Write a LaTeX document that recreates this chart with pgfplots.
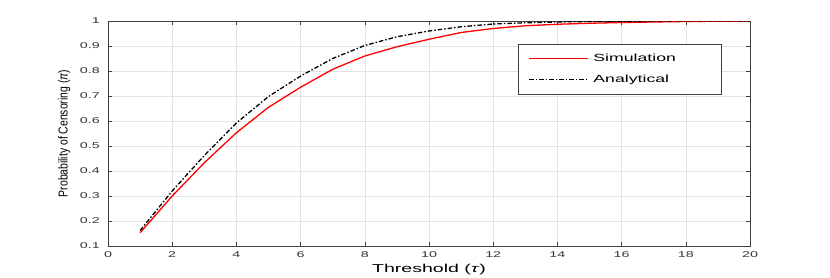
\documentclass[border=0pt]{standalone}
\usepackage{fontspec}
\setmainfont{Liberation Sans}
\newfontfamily\widefont[FakeStretch=1.7]{Liberation Sans}
\newfontfamily\narrowfont[FakeStretch=0.8]{Liberation Sans}
\usepackage{pgfplots}
\pgfplotsset{compat=1.18}
\begin{document}
\begin{tikzpicture}
\begin{axis}[
  at={(0,0)}, anchor=south west,
  scale only axis, width=642pt, height=225pt,
  xmin=0, xmax=20, ymin=0.1, ymax=1,
  xtick={0,2,...,20}, ytick={0.1,0.2,...,1.0},
  tick align=inside, tick pos=both,
  major tick length=4pt,
  grid=major, grid style={gray!22, line width=0.5pt},
  axis line style={black!75, line width=0.6pt},
  tick style={black!75, line width=0.6pt},
  /pgf/number format/assume math mode=true,
  yticklabel style={font=\widefont\fontsize{8.4}{10}\selectfont, inner sep=0pt, xshift=-8pt, text=black!80,
    /pgf/number format/fixed, /pgf/number format/precision=1},
  xticklabel style={font=\widefont\fontsize{8.4}{10}\selectfont, inner sep=0pt, yshift=-5.5pt, text=black!80},
  xlabel={Threshold (\textit{τ})},
  xlabel style={font=\widefont\fontsize{11.5}{13}\selectfont, at={(axis description cs:0.5,-0.117)}, anchor=base},
  ylabel={Probability of Censoring (\textit{π})},
  ylabel style={font=\narrowfont\fontsize{13}{15}\selectfont, at={(axis description cs:-0.068,0.5)}, anchor=center, rotate=0},
  legend style={at={(axis description cs:0.956,0.898)}, anchor=north east,
    font=\widefont\fontsize{10.4}{12}\selectfont, draw=black!75, line width=0.6pt,
    inner xsep=10pt, inner ysep=8pt, row sep=8pt, cells={anchor=west}},
  legend cell align=left,
  legend image code/.code={\draw[#1, line width=1.3pt] (0pt,0pt) -- (59pt,0pt);},
]
\addplot[red, line width=1.3pt] coordinates {
(1,0.153) (2,0.300) (3,0.433) (4,0.553) (5,0.655) (6,0.735) (7,0.807) (8,0.860) (9,0.897) (10,0.927)
(11,0.954) (12,0.970) (13,0.981) (14,0.987) (15,0.991) (16,0.994) (17,0.996) (18,0.998) (19,0.999) (20,1.000)};
\addlegendentry{\hspace*{2.5pt}\makebox[116pt][l]{Simulation}}
\addplot[black, line width=1.3pt, dash pattern=on 4.5pt off 2pt on 1.5pt off 2pt] coordinates {
(1,0.162) (2,0.320) (3,0.462) (4,0.592) (5,0.698) (6,0.780) (7,0.850) (8,0.902) (9,0.937) (10,0.960)
(11,0.977) (12,0.988) (13,0.993) (14,0.996) (15,0.998) (16,0.999) (17,1.000) (18,1.000) (19,1.000) (20,1.000)};
\addlegendentry{\hspace*{2.5pt}\makebox[116pt][l]{Analytical}}
\end{axis}
\pgfresetboundingbox
\path[use as bounding box] (-108pt,-31pt) rectangle (722pt,246pt);
\end{tikzpicture}
\end{document}
